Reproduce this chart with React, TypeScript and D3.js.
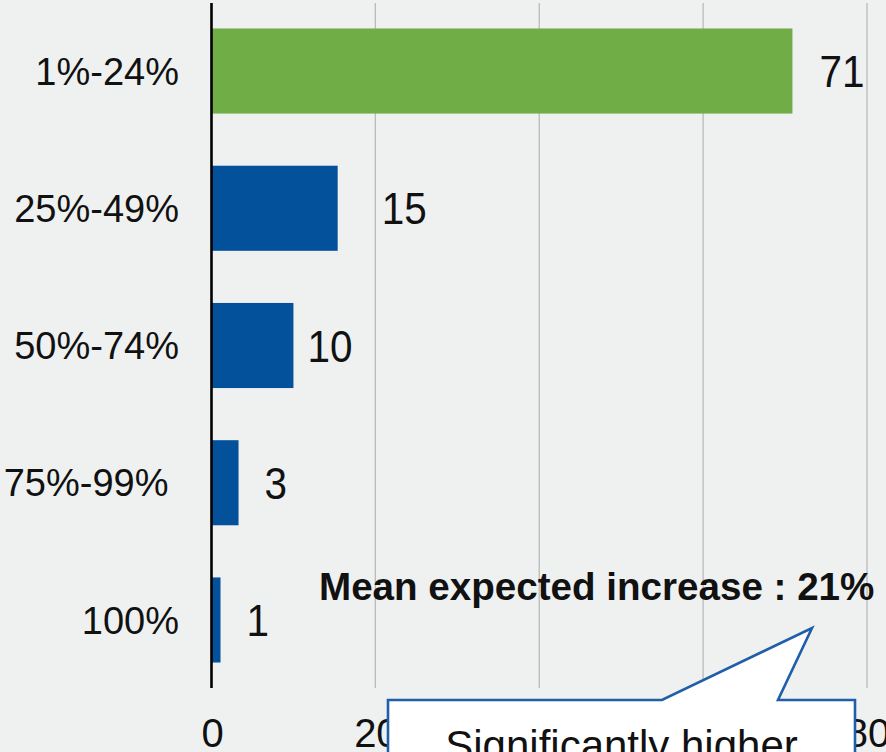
import React from "react";
import * as d3 from "d3";

const categories = ["1%-24%", "25%-49%", "50%-74%", "75%-99% ", "100%"];
const values = [70.9, 15.4, 10, 3.3, 1.1];
const xTicks = [0, 20, 40, 60, 80];
const highlightIndex = 0;
const meanText = "Mean expected increase : 21%";
const calloutText = "Significantly higher";
// small per-label horizontal nudges (layout only)
const labelNudge = [27, 44, 14, 26, 26];

const W = 886;
const H = 752;
const BG = "#eff1f1";
const GREEN = "#70ad47";
const BLUE = "#03519b";
const CALLOUT = "#1f5ea8";
const FONT = "'Liberation Sans', Arial, Helvetica, sans-serif";

export default function App() {
  const x = d3.scaleLinear().domain([0, 80]).range([211.5, 867]);
  const y = d3
    .scaleBand<string>()
    .domain(categories)
    .range([2.4, 688.6])
    .paddingInner(0.38)
    .paddingOuter(0.19);
  const fmt = d3.format(".0f");
  const plotTop = 3;
  const plotBottom = 688;

  // callout geometry
  const boxL = 388, boxT = 700, boxR = 855, boxB = 820;
  const pBaseL = 662, pBaseR = 778, tipX = 812, tipY = 628;
  const callout = d3.path();
  callout.moveTo(boxL, boxB);
  callout.lineTo(boxL, boxT);
  callout.lineTo(pBaseL, boxT);
  callout.lineTo(tipX, tipY);
  callout.lineTo(pBaseR, boxT);
  callout.lineTo(boxR, boxT);
  callout.lineTo(boxR, boxB);
  callout.closePath();

  return (
    <svg
      width={W}
      height={H}
      style={{ position: "absolute", left: 0, top: 0, display: "block" }}
      fontFamily={FONT}
    >
      <rect x={0} y={0} width={W} height={H} fill={BG} />
      {xTicks.slice(1).map((t) => (
        <line
          key={"g" + t}
          x1={x(t)}
          x2={x(t)}
          y1={plotTop}
          y2={plotBottom}
          stroke="#b9bbbb"
          strokeWidth={1.3}
        />
      ))}
      {categories.map((c, i) => (
        <rect
          key={"b" + c}
          x={x(0)}
          y={y(c)!}
          width={x(values[i]) - x(0)}
          height={y.bandwidth()}
          fill={i === highlightIndex ? GREEN : BLUE}
        />
      ))}
      <line
        x1={x(0)}
        x2={x(0)}
        y1={plotTop}
        y2={plotBottom}
        stroke="#000"
        strokeWidth={2.6}
      />
      {categories.map((c, i) => (
        <text
          key={"c" + c}
          x={179}
          y={y(c)! + y.bandwidth() / 2 + 13.6}
          textAnchor="end"
          fontSize={38}
          fill="#111"
          style={{ whiteSpace: "pre" }}
        >
          {c}
        </text>
      ))}
      {categories.map((c, i) => (
        <g
          key={"v" + c}
          transform={`translate(${x(values[i]) + labelNudge[i]},${
            y(c)! + y.bandwidth() / 2 + 16
          }) scale(0.92,1)`}
        >
          <text x={0} y={0} fontSize={44} fill="#111">
            {fmt(values[i])}
          </text>
        </g>
      ))}
      {xTicks.map((t) => (
        <text
          key={"t" + t}
          x={x(t) + 1}
          y={747}
          textAnchor="middle"
          fontSize={40}
          fill="#111"
        >
          {t}
        </text>
      ))}
      <text x={319} y={600} fontSize={38.6} fontWeight="bold" fill="#111">
        {meanText}
      </text>
      <path
        d={callout.toString()}
        fill="#fff"
        stroke={CALLOUT}
        strokeWidth={2.6}
        strokeLinejoin="miter"
      />
      <text
        x={(boxL + boxR) / 2}
        y={760}
        textAnchor="middle"
        fontSize={42}
        fill="#111"
      >
        {calloutText}
      </text>
    </svg>
  );
}
